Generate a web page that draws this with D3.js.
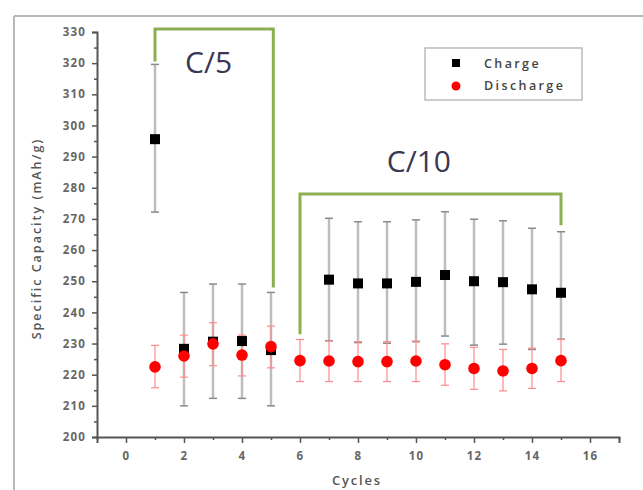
<!DOCTYPE html>
<html>
<head>
<meta charset="utf-8">
<script src="https://cdn.jsdelivr.net/npm/d3@7"></script>
<style>
  html, body { margin: 0; padding: 0; background: #fff; }
  svg { display: block; }
  text { font-family: "Open Sans", "DejaVu Sans", sans-serif; }
</style>
</head>
<body>
<svg id="chart" width="643" height="490"></svg>
<script>
// ---- data ----
const chargeCycles = [1, 2, 3, 4, 5, 7, 8, 9, 10, 11, 12, 13, 14, 15];
const chargeValues = [295.6, 228.3, 230.6, 230.8, 227.9, 250.5, 249.3, 249.3, 249.8, 252.0, 250.0, 249.7, 247.4, 246.3];
const chargeErrHigh = [319.6, 246.4, 249.1, 249.1, 246.4, 270.2, 269.1, 269.1, 269.7, 272.3, 269.9, 269.4, 267.0, 265.9];
const chargeErrLow = [272.2, 210.0, 212.4, 212.4, 210.0, 230.9, 230.3, 230.1, 230.6, 232.4, 229.5, 229.8, 228.1, 231.4];

const dischargeCycles = [1, 2, 3, 4, 5, 6, 7, 8, 9, 10, 11, 12, 13, 14, 15];
const dischargeValues = [222.5, 226.0, 229.9, 226.3, 229.0, 224.5, 224.4, 224.2, 224.2, 224.4, 223.2, 222.0, 221.2, 222.0, 224.5];
const dischargeErrHigh = [229.4, 232.7, 236.7, 232.7, 235.6, 231.3, 230.8, 230.6, 230.6, 230.8, 229.9, 228.8, 228.1, 228.5, 231.3];
const dischargeErrLow = [215.8, 219.2, 222.9, 219.6, 222.2, 217.8, 217.8, 217.8, 217.8, 217.8, 216.6, 215.3, 214.8, 215.6, 217.8];

const xTicks = [0, 2, 4, 6, 8, 10, 12, 14, 16];
const yTicks = [200, 210, 220, 230, 240, 250, 260, 270, 280, 290, 300, 310, 320, 330];

// rate brackets
const rateLabels = ["C/5", "C/10"];
const bracketLeftX = [1, 6];
const bracketLeftBottom = [320.5, 233];
const bracketTop = [331, 278];
const bracketRightX = [5.08, 15];
const bracketRightBottom = [248, 268];
const rateLabelX = [2.85, 10.1];
const rateLabelY = [317, 285];

const seriesNames = ["Charge", "Discharge"];

// ---- layout ----
const svg = d3.select("#chart");
const x = d3.scaleLinear().domain([-1, 17]).range([97, 619]);
const y = d3.scaleLinear().domain([200, 330]).range([437, 32]);

// outer frame
svg.append("line").attr("x1", 14).attr("x2", 643).attr("y1", 16).attr("y2", 16)
  .attr("stroke", "#b8b8b8").attr("stroke-width", 2);
svg.append("line").attr("x1", 14).attr("x2", 14).attr("y1", 16).attr("y2", 490)
  .attr("stroke", "#b8b8b8").attr("stroke-width", 2);

// ---- brackets ----
const green = "#8bb052";
const gB = svg.append("g");
rateLabels.forEach((lab, i) => {
  const pts = [
    [x(bracketLeftX[i]), y(bracketLeftBottom[i])],
    [x(bracketLeftX[i]), y(bracketTop[i])],
    [x(bracketRightX[i]), y(bracketTop[i])],
    [x(bracketRightX[i]), y(bracketRightBottom[i])]
  ];
  gB.append("path").attr("d", d3.line()(pts))
    .attr("fill", "none").attr("stroke", green).attr("stroke-width", 3);
  gB.append("text").attr("x", x(rateLabelX[i])).attr("y", y(rateLabelY[i]))
    .attr("text-anchor", "middle").attr("font-size", 30)
    .attr("font-family", "Liberation Sans, Arial, sans-serif")
    .attr("fill", "#3b3752").text(lab);
});

// ---- error bars ----
const gE = svg.append("g");
chargeCycles.forEach((c, i) => {
  gE.append("line").attr("x1", x(c)).attr("x2", x(c))
    .attr("y1", y(chargeErrLow[i])).attr("y2", y(chargeErrHigh[i]))
    .attr("stroke", "#bdbdbd").attr("stroke-width", 2.5);
  [chargeErrLow[i], chargeErrHigh[i]].forEach(v => {
    gE.append("line").attr("x1", x(c) - 4).attr("x2", x(c) + 4)
      .attr("y1", y(v)).attr("y2", y(v)).attr("stroke", "#8a8a8a").attr("stroke-width", 1.5);
  });
});
dischargeCycles.forEach((c, i) => {
  gE.append("line").attr("x1", x(c)).attr("x2", x(c))
    .attr("y1", y(dischargeErrLow[i])).attr("y2", y(dischargeErrHigh[i]))
    .attr("stroke", "#ff8a8a").attr("stroke-width", 1.2);
  [dischargeErrLow[i], dischargeErrHigh[i]].forEach(v => {
    gE.append("line").attr("x1", x(c) - 4).attr("x2", x(c) + 4)
      .attr("y1", y(v)).attr("y2", y(v)).attr("stroke", "#ff8a8a").attr("stroke-width", 1.2);
  });
});

// ---- markers ----
const gM = svg.append("g");
gM.selectAll("rect.ch").data(chargeCycles).join("rect").attr("class", "ch")
  .attr("x", (d) => x(d) - 5).attr("y", (d, i) => y(chargeValues[i]) - 5)
  .attr("width", 10).attr("height", 10).attr("fill", "#000");
gM.selectAll("circle.dc").data(dischargeCycles).join("circle").attr("class", "dc")
  .attr("cx", (d) => x(d)).attr("cy", (d, i) => y(dischargeValues[i]))
  .attr("r", 5.8).attr("fill", "#ff0000");

// ---- axes ----
const axisColor = "#555";
const gx = svg.append("g").attr("transform", `translate(0,${y(200)})`);
gx.call(d3.axisBottom(x).tickValues(xTicks).tickSize(6).tickPadding(9).tickFormat(d3.format("d")));
const gxm = svg.append("g").attr("transform", `translate(0,${y(200)})`);
gxm.call(d3.axisBottom(x).tickValues(d3.range(-1, 18, 2)).tickSize(3).tickFormat(""));

const gy = svg.append("g").attr("transform", `translate(${x(-1)},0)`);
gy.call(d3.axisLeft(y).tickValues(yTicks).tickSize(5).tickPadding(6).tickFormat(d3.format("d")));
const gym = svg.append("g").attr("transform", `translate(${x(-1)},0)`);
gym.call(d3.axisLeft(y).tickValues(d3.range(205, 330, 5).filter(v => v % 10 !== 0)).tickSize(3).tickFormat(""));

[gx, gxm, gy, gym].forEach(g => {
  g.select(".domain").attr("stroke", axisColor).attr("stroke-width", 2);
  g.selectAll(".tick line").attr("stroke", axisColor).attr("stroke-width", 1.5);
  g.selectAll(".tick text").attr("fill", "#666").attr("font-size", 11.5)
    .attr("font-family", "Open Sans, sans-serif").attr("font-weight", 700)
    .style("letter-spacing", "1.2px");
});
gym.select(".domain").remove();
gxm.select(".domain").remove();

// axis titles
svg.append("text").attr("transform", `translate(41,${(y(200) + y(330)) / 2 + 4}) rotate(-90)`)
  .attr("text-anchor", "middle").attr("font-size", 12.5).attr("fill", "#555")
  .attr("font-weight", 600)
  .style("letter-spacing", "2px").text("Specific Capacity (mAh/g)");
svg.append("text").attr("x", 357).attr("y", 485)
  .attr("text-anchor", "middle").attr("font-size", 13).attr("fill", "#555")
  .attr("font-weight", 600)
  .style("letter-spacing", "1.8px").text("Cycles");

// ---- legend ----
const lg = svg.append("g");
lg.append("rect").attr("x", 425).attr("y", 48).attr("width", 157).attr("height", 52)
  .attr("fill", "#fff").attr("stroke", "#aaa").attr("stroke-width", 1.2);
lg.append("rect").attr("x", 452).attr("y", 59).attr("width", 8).attr("height", 8).attr("fill", "#000");
lg.append("circle").attr("cx", 456).attr("cy", 86).attr("r", 4.5).attr("fill", "#ff0000");
seriesNames.forEach((n, i) => {
  lg.append("text").attr("x", 484).attr("y", 68 + i * 22).attr("font-size", 12.5)
    .attr("fill", "#444").attr("font-weight", 600)
    .style("letter-spacing", "2.4px").text(n);
});
</script>
</body>
</html>
